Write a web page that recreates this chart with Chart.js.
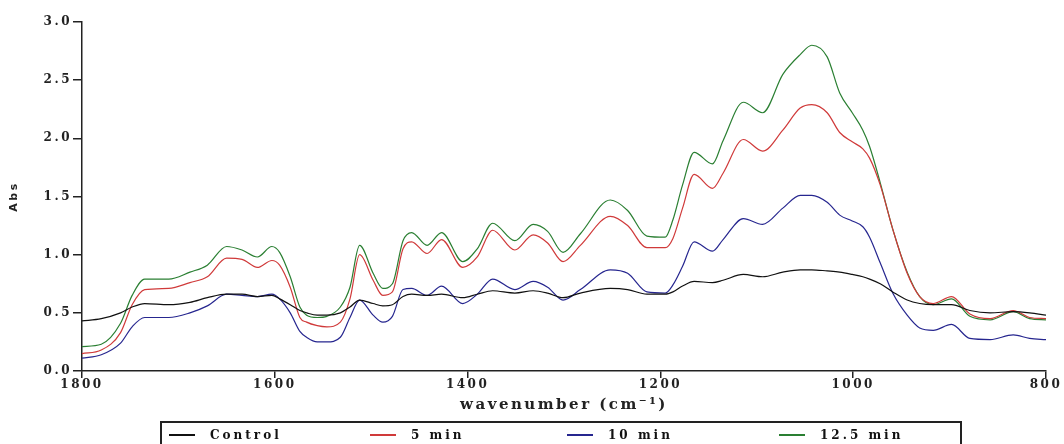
<!DOCTYPE html>
<html>
<head>
<meta charset="utf-8">
<script src="https://cdn.jsdelivr.net/npm/chart.js@4/dist/chart.umd.min.js"></script>
<style>
  body { margin: 0; background: #fff; }
  #wrap { position: relative; width: 1064px; height: 444px; overflow: hidden; }
  #legend {
    position: absolute; left: 160px; top: 421px; width: 802px; height: 30px;
    border: 2px solid #222; box-sizing: border-box;
    font: bold 12px "DejaVu Serif", serif; letter-spacing: 3px; color: #111;
  }
  .item { position: absolute; top: 5px; display: flex; align-items: center; white-space: nowrap; }
  .swatch { width: 26px; height: 2px; margin-right: 15px; }
</style>
</head>
<body>
<div id="wrap">
  <canvas id="chart" width="1064" height="444"></canvas>
  <div id="legend"></div>
</div>
<script>
// wavenumber (cm-1)
const wavenumber = [1800, 1780, 1760, 1748, 1735, 1710, 1688, 1670, 1650, 1634, 1618, 1603, 1595, 1584, 1574, 1567, 1556, 1546, 1532, 1522, 1512, 1498, 1488, 1478, 1467, 1458, 1442, 1427, 1405, 1390, 1374, 1351, 1332, 1317, 1301, 1283, 1252, 1234, 1214, 1195, 1187, 1177, 1165, 1146, 1135, 1114, 1094, 1073, 1055, 1043, 1027, 1014, 1001, 990, 983, 972, 959, 944, 931, 917, 898, 879, 858, 834, 817, 800];

const control = [0.43, 0.45, 0.50, 0.55, 0.58, 0.57, 0.59, 0.63, 0.66, 0.66, 0.64, 0.65, 0.62, 0.57, 0.52, 0.50, 0.48, 0.48, 0.50, 0.55, 0.61, 0.58, 0.56, 0.57, 0.64, 0.66, 0.65, 0.66, 0.63, 0.66, 0.69, 0.67, 0.69, 0.67, 0.63, 0.67, 0.71, 0.70, 0.66, 0.66, 0.68, 0.73, 0.77, 0.76, 0.78, 0.83, 0.81, 0.85, 0.87, 0.87, 0.86, 0.85, 0.83, 0.81, 0.79, 0.75, 0.68, 0.61, 0.58, 0.57, 0.57, 0.52, 0.50, 0.51, 0.50, 0.48];

const min5 = [0.15, 0.18, 0.33, 0.57, 0.70, 0.71, 0.76, 0.81, 0.97, 0.96, 0.89, 0.95, 0.91, 0.72, 0.46, 0.42, 0.39, 0.38, 0.42, 0.62, 1.00, 0.78, 0.65, 0.68, 1.05, 1.11, 1.01, 1.13, 0.89, 0.98, 1.21, 1.04, 1.17, 1.10, 0.94, 1.08, 1.33, 1.25, 1.06, 1.06, 1.14, 1.40, 1.69, 1.57, 1.70, 1.99, 1.89, 2.07, 2.26, 2.29, 2.22, 2.05, 1.97, 1.91, 1.83, 1.60, 1.22, 0.84, 0.64, 0.58, 0.64, 0.49, 0.45, 0.52, 0.46, 0.45];

const min10 = [0.11, 0.14, 0.24, 0.38, 0.46, 0.46, 0.50, 0.56, 0.66, 0.65, 0.64, 0.66, 0.62, 0.50, 0.34, 0.29, 0.25, 0.25, 0.29, 0.46, 0.61, 0.48, 0.42, 0.47, 0.70, 0.71, 0.65, 0.73, 0.58, 0.66, 0.79, 0.70, 0.77, 0.72, 0.61, 0.70, 0.87, 0.84, 0.68, 0.67, 0.74, 0.90, 1.11, 1.03, 1.13, 1.31, 1.26, 1.40, 1.51, 1.51, 1.45, 1.34, 1.29, 1.24, 1.15, 0.93, 0.67, 0.48, 0.37, 0.35, 0.40, 0.28, 0.27, 0.31, 0.28, 0.27];

const min12_5 = [0.21, 0.23, 0.41, 0.65, 0.79, 0.79, 0.85, 0.91, 1.07, 1.04, 0.98, 1.07, 1.02, 0.81, 0.55, 0.48, 0.46, 0.47, 0.55, 0.72, 1.08, 0.84, 0.71, 0.75, 1.12, 1.19, 1.08, 1.19, 0.94, 1.05, 1.27, 1.12, 1.26, 1.20, 1.02, 1.18, 1.47, 1.38, 1.16, 1.15, 1.30, 1.60, 1.88, 1.78, 1.98, 2.31, 2.22, 2.55, 2.72, 2.80, 2.70, 2.39, 2.22, 2.07, 1.93, 1.62, 1.22, 0.85, 0.64, 0.57, 0.62, 0.47, 0.44, 0.51, 0.45, 0.44];

const seriesNames = ["Control", "5 min", "10 min", "12.5 min"];
const seriesColors = ["#111111", "#d03a3a", "#26268f", "#2a7f32"];
const legendX = [7, 208, 405, 617];

function pts(vals) {
  return vals.map((v, i) => ({ x: wavenumber[i], y: v }));
}

const all = [control, min5, min10, min12_5];

const datasets = all.map((vals, i) => ({
  label: seriesNames[i],
  data: pts(vals),
  borderColor: seriesColors[i],
  borderWidth: 1.2,
  pointRadius: 0,
  tension: 0.4,
  cubicInterpolationMode: "monotone",
  fill: false
}));

const spacing = {
  id: "spacing",
  beforeUpdate(c) { c.ctx.letterSpacing = "2.5px"; },
  beforeDraw(c) { c.ctx.letterSpacing = "2.5px"; }
};

const tickFont = { family: "'DejaVu Serif', serif", size: 12, weight: "bold" };

new Chart(document.getElementById("chart"), {
  type: "line",
  data: { datasets },
  options: {
    responsive: false,
    animation: false,
    layout: { padding: { left: 0, right: 18, top: 22, bottom: 26 } },
    plugins: { legend: { display: false }, tooltip: { enabled: false } },
    scales: {
      x: {
        type: "linear",
        reverse: true,
        min: 800,
        max: 1800,
        afterFit: s => { s.height = 47; },
        ticks: { stepSize: 200, padding: 0, color: "#222", font: tickFont, maxRotation: 0, callback: v => String(v) },
        grid: { drawOnChartArea: false, drawTicks: true, tickLength: 7, color: "#222", lineWidth: 1.5 },
        border: { display: true, color: "#222", width: 1.5 },
        title: {
          display: true,
          text: "wavenumber (cm⁻¹)",
          color: "#222",
          font: { family: "'DejaVu Serif', serif", size: 15, weight: "bold" },
          padding: { top: 0, bottom: 4 }
        }
      },
      y: {
        min: 0,
        max: 3,
        afterFit: s => { s.width = 82; },
        ticks: { stepSize: 0.5, padding: 1, color: "#222", font: tickFont, callback: v => v.toFixed(1) },
        grid: { drawOnChartArea: false, drawTicks: true, tickLength: 9, color: "#222", lineWidth: 1.5 },
        border: { display: true, color: "#222", width: 1.5 },
        title: {
          display: true,
          text: "Abs",
          color: "#222",
          font: { family: "'DejaVu Sans', sans-serif", size: 11, weight: "bold" },
          padding: { top: 8, bottom: 0 }
        }
      }
    }
  },
  plugins: [spacing]
});

// legend in a framed box below the axis
const legend = document.getElementById("legend");
seriesNames.forEach((name, i) => {
  const item = document.createElement("div");
  item.className = "item";
  item.style.left = legendX[i] + "px";
  const sw = document.createElement("span");
  sw.className = "swatch";
  sw.style.background = seriesColors[i];
  const txt = document.createElement("span");
  txt.textContent = name;
  item.appendChild(sw);
  item.appendChild(txt);
  legend.appendChild(item);
});
</script>
</body>
</html>
